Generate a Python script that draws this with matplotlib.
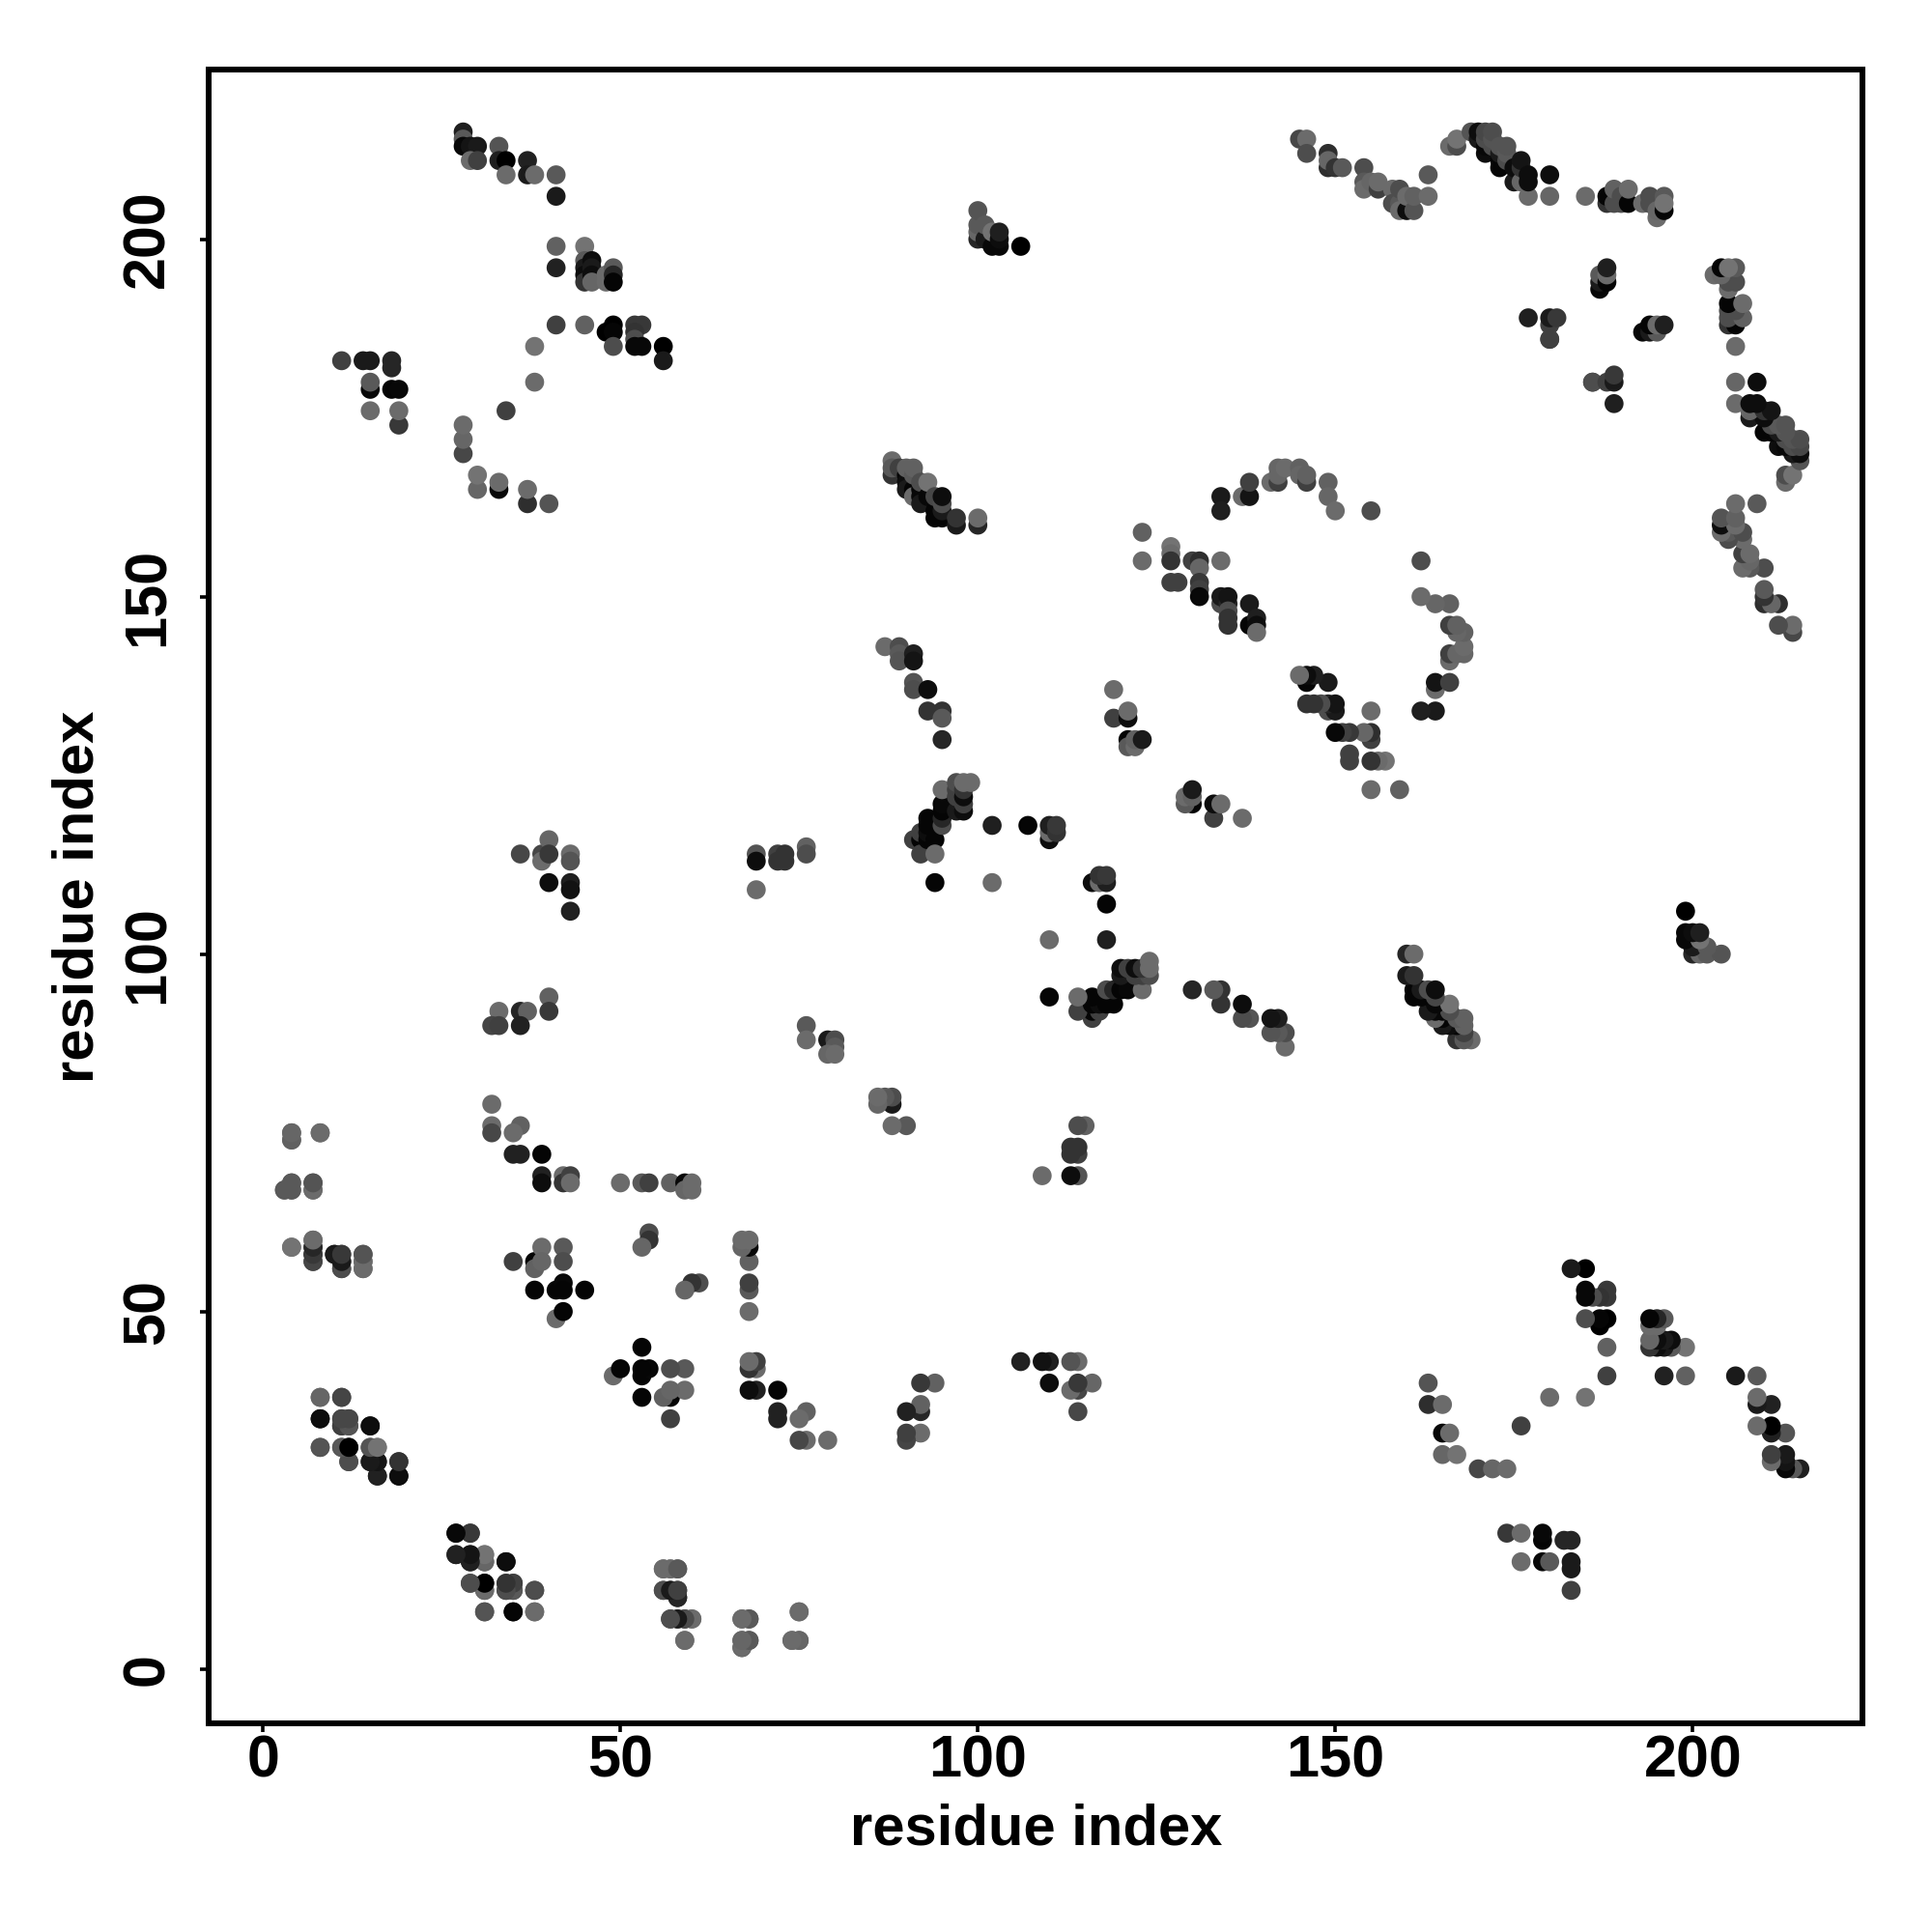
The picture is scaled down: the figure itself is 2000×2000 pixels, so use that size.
import numpy as np
import matplotlib
matplotlib.use("Agg")
import matplotlib.pyplot as plt

# contact map, (i, j, grey) with i < j, the lower half is the mirror image
near_top_left = [(28,215,.12),(28,214,.35),(28,213,.03),(29,213,.08),(30,213,.1),(29,211,.42),(30,211,.25),
    (33,213,.33),(33,211,.12),(34,211,0),(34,209,.42),(37,211,.13),(37,209,.1),(38,209,.42),(41,209,.35),(41,206,.1),
    (41,199,.38),(45,199,.45),(41,196,.13),(45,197,.35),(45,196,.1),(45,195,.05),(45,194,.2),(46,197,.05),(46,196,.1),
    (46,195,.05),(46,194,.4),(48,195,.42),(48,194,.42),(49,196,.35),(49,195,.15),(49,194,.02),
    (41,188,.25),(45,188,.38),(48,187,0),(49,188,0),(49,187,.02),(49,185,.3),(52,188,.22),(53,188,.22),(52,187,.2),
    (52,186,.3),(52,185,.03),(53,185,.03),(56,185,0),(56,183,.1),(38,185,.45),(38,180,.42),(34,176,.25)]
strand_11_19 = [(11,183,.25),(14,183,.1),(15,183,.1),(18,183,.15),(18,182,.15),(15,179,.03),(15,180,.35),(18,179,.02),
    (19,179,.03),(15,176,.42),(19,174,.22),(19,176,.42)]
strand_28_40 = [(28,170,.28),(28,172,.4),(28,174,.42),(30,165,.4),(30,167,.45),(33,165,.03),(33,166,.42),(37,163,.18),
    (37,165,.42),(40,163,.33)]
patch_100 = [(100,200,.15),(100,201,.4),(100,202,.35),(100,204,.33),(101,200,.1),(101,202,.35),(102,199,.03),(102,201,.45),
    (103,199,.03),(103,200,.05),(103,201,.12),(106,199,0)]
strand_88_100 = [(88,169,.42),(88,167,.2),(88,168,.35),(89,168,.25),(90,167,.02),(90,166,.05),(90,165,.1),(90,168,.38),
    (91,166,.1),(91,165,.02),(91,164,.42),(91,167,.35),(91,168,.38),(92,165,.02),(92,164,.03),(92,163,.1),(92,166,.3),
    (93,164,.03),(93,166,.45),(94,162,.02),(94,161,.02),(94,164,.28),(95,161,.02),(95,162,.1),(95,163,.3),(95,164,.05),
    (97,160,.1),(97,161,.2),(100,160,.15),(100,161,.42)]
top_row_a = [(145,214,.28),(146,214,.42),(146,212,.3),(149,212,.18),(149,210,.18),(149,211,.4),(150,210,.2),(151,210,.35),
    (154,210,.3),(154,208,.35),(154,207,.42),(155,208,.4),(156,207,.25),(156,208,.42),(158,207,.42),(158,205,.3),
    (159,205,.35),(159,207,.3),(159,204,.42),(160,204,.05),(160,206,.42),(161,204,.33),(161,206,.38),(163,209,.35),(163,206,.42)]
top_row_b = [(166,213,.42),(167,213,.3),(167,214,.45),(169,215,.33),(170,214,.1),(170,215,.05),(171,212,.05),(171,213,.03),
    (171,214,.3),(171,215,.28),(172,213,.3),(172,214,.33),(172,215,.3),(173,210,.02),(173,211,.02),(173,212,.1),(173,213,.33),
    (174,211,.3),(174,212,.35),(174,213,.33),(175,208,.1),(175,210,.05),(176,208,.4),(176,210,.2),(176,211,.08),
    (177,206,.42),(177,208,.05),(177,209,.05),(180,209,.05),(180,206,.4),(185,206,.42)]
top_row_c = [(188,205,.2),(188,206,.02),(189,205,.3),(189,207,.38),(190,205,.3),(190,206,.3),(191,205,.02),(191,207,.42),
    (193,205,.42),(194,205,.3),(194,206,.3),(195,203,.42),(195,204,.4),(196,204,.02),(196,206,.35),(196,205,.45)]
patch_177_196 = [(177,189,.12),(180,186,.3),(180,188,.25),(180,189,.1),(181,189,.22),(186,180,.25),
    (187,193,.03),(187,194,.1),(187,195,.35),(188,194,.02),(188,195,.42),(188,196,.12)]
arc_123_151 = [(123,159,.38),(123,155,.42),(127,157,.45),(127,156,.42),(127,155,.2),(127,152,.25),(128,152,.25),
    (130,155,.25),(131,155,.18),(131,154,.4),(131,152,.22),(131,151,.25),(131,150,.03),(134,155,.42),
    (134,149,.3),(134,150,.1),(135,149,.15),(135,150,.08),(135,148,.3),(135,147,.2),(135,146,.2),(138,149,.1),(138,146,.02),
    (139,147,.12),(139,146,.05),(139,145,.42),(134,164,.1),(134,162,.12),(137,164,.42),(138,164,.08),(138,166,.25),
    (141,166,.42),(142,166,.25),(142,167,.4),(142,168,.4),(143,168,.42),(145,168,.38),(145,167,.4),(146,166,.25),(146,167,.38),
    (149,166,.38),(149,164,.4),(150,162,.42),(155,162,.3)]
strand_87_95 = [(87,143,.42),(89,143,.3),(89,142,.35),(89,141,.33),(91,142,.12),(91,141,.08),(91,138,.33),(91,137,.3),(93,137,.05),
    (93,134,.2),(95,134,.2),(95,133,.35),(95,130,.15)]
patch_119_123 = [(119,137,.42),(119,133,.25),(121,133,.05),(121,134,.42),(121,130,.02),(121,129,.35),(122,129,.42),(122,130,.38),(123,130,.1)]
patch_95_124 = [(91,116,.25),(92,116,.02),(92,117,.25),(92,114,.25),(93,116,.02),(93,117,.05),(93,118,.02),(93,119,.02),(94,116,.02),
    (94,114,.42),(94,118,.02),(94,110,.02),(95,118,.3),(95,119,.15),(95,120,.02),(95,121,.03),(95,123,.42),(97,120,.1),(97,122,.25),
    (97,123,.25),(97,124,.3),(98,120,.05),(98,121,.25),(98,122,.05),(98,123,.2),(98,124,.42),(99,124,.42),
    (102,110,.42),(102,118,.12),(107,118,.02),(110,116,.05),(110,117,.42),(110,118,.12),(111,117,.2),(111,118,.22)]
patch_36_76 = [(76,115,.38),(76,114,.3),(72,114,.25),(72,113,.2),(73,114,.2),(73,113,.2),(69,114,.33),(69,113,.05),(69,109,.42),
    (36,114,.28),(39,114,.28),(39,113,.42),(40,116,.4),(40,114,.22),(43,114,.42),(43,113,.33),(40,110,.05),(43,110,.12),(43,109,.07),(43,106,.13)]
patch_33_40 = [(40,94,.38),(40,92,.22),(33,92,.42),(36,92,.15),(37,92,.38),(32,90,.27),(33,90,.25),(36,90,.13)]
patch_76_80 = [(76,90,.35),(76,88,.42),(79,88,.1),(80,88,.3),(80,87,.35),(79,86,.4),(80,86,.42)]
patch_32_43 = [(32,79,.42),(32,76,.42),(32,75,.28),(36,76,.38),(35,75,.42),(35,72,.13),(36,72,.13),(39,72,.02),(39,69,.13),(39,68,.05),
    (42,69,.42),(42,68,.2),(43,69,.25),(43,68,.42)]
row_68 = [(50,68,.42),(53,68,.35),(54,68,.25),(57,68,.38),(59,68,.03),(59,67,.4),(60,67,.42),(60,68,.42)]
patch_3_8 = [(4,75,.4),(4,74,.42),(8,75,.42),(3,67,.42),(4,68,.35),(4,67,.4),(7,68,.35),(7,67,.42)]
patch_4_14 = [(4,59,.42),(7,60,.42),(7,59,.3),(7,58,.1),(7,57,.3),(10,58,.15),(11,56,.3),(11,57,.1),(11,58,.25),(14,56,.42),(14,57,.42),(14,58,.35)]
patch_35_54 = [(35,57,.25),(38,57,.02),(38,56,.38),(39,59,.42),(39,57,.4),(42,59,.35),(42,57,.3),(38,53,.02),(41,53,.02),(42,54,.03),
    (42,53,.02),(45,53,.02),(41,49,.42),(42,50,.02),(54,61,.3),(54,60,.2),(53,59,.4)]
patch_8_19 = [(8,38,.42),(11,38,.3),(8,35,.02),(11,35,.35),(12,35,.25),(11,34,.3),(12,34,.2),(15,34,.05),(8,31,.33),(11,31,.42),(12,31,0),
    (12,29,.3),(15,31,.4),(16,31,.45),(15,29,.12),(16,29,.08),(16,27,.13),(19,29,.22),(19,27,.03)]
patch_27_38 = [(27,19,.05),(29,19,.2),(27,16,.13),(29,16,.08),(29,15,.1),(31,15,.33),(31,16,.45),(34,15,.05),(29,12,.3),(31,11,.35),(31,12,0),
    (34,11,.25),(34,12,.33),(35,11,.28),(35,12,.28),(38,11,.27),(31,8,.33),(35,8,.05),(38,8,.4)]
patch_56_75 = [(56,14,.42),(57,14,.42),(58,14,.33),(56,11,.3),(57,11,.1),(58,10,.1),(58,11,.22),(57,7,.27),(58,7,.22),(59,7,.15),(60,7,.42),
    (59,4,.45),(67,3,.35),(67,4,.35),(68,4,.35),(67,7,.42),(68,7,.33),(74,4,.38),(75,4,.4),(75,8,.42)]

groups = [near_top_left, strand_11_19, strand_28_40, patch_100, strand_88_100, top_row_a, top_row_b, top_row_c,
          patch_177_196, arc_123_151, strand_87_95, patch_119_123, patch_95_124, patch_36_76, patch_33_40, patch_76_80,
          patch_32_43, row_68, patch_3_8, patch_4_14, patch_35_54, patch_8_19, patch_27_38, patch_56_75]
contacts = np.array([c for grp in groups for c in grp])
x = np.concatenate([contacts[:, 0], contacts[:, 1]])
y = np.concatenate([contacts[:, 1], contacts[:, 0]])
g = np.concatenate([contacts[:, 2], contacts[:, 2]])

plt.rcParams['font.family'] = ['Liberation Sans', 'DejaVu Sans']
plt.rcParams['font.weight'] = 'bold'

fig = plt.figure(figsize=(10, 10), dpi=200)
ax = fig.add_axes([216.4/2000, 1-1784/2000, (1928-216.4)/2000, (1784-72.2)/2000])
ax.scatter(x, y, s=50, c=[(v, v, v) for v in g], linewidths=0, zorder=3)

ax.set_xlim(-7.55, 223.75)
ax.set_ylim(-7.6, 223.7)
ax.set_xticks([0, 50, 100, 150, 200])
ax.set_yticks([0, 50, 100, 150, 200])
for s in ax.spines.values():
    s.set_linewidth(2.16)
ax.tick_params(axis='both', length=3.2, width=1.3, labelsize=22)
ax.tick_params(axis='x', pad=1)
ax.tick_params(axis='y', pad=9)
for t in ax.get_yticklabels():
    t.set_rotation(90)
    t.set_va('center')

ax.set_xlabel('residue index', fontsize=21.5, fontweight='bold')
ax.set_ylabel('residue index', fontsize=21.5, fontweight='bold')
ax.xaxis.set_label_coords(0.5, -0.048)
ax.yaxis.set_label_coords(-0.0632, 0.5)

fig.savefig('out.png', dpi=200)
